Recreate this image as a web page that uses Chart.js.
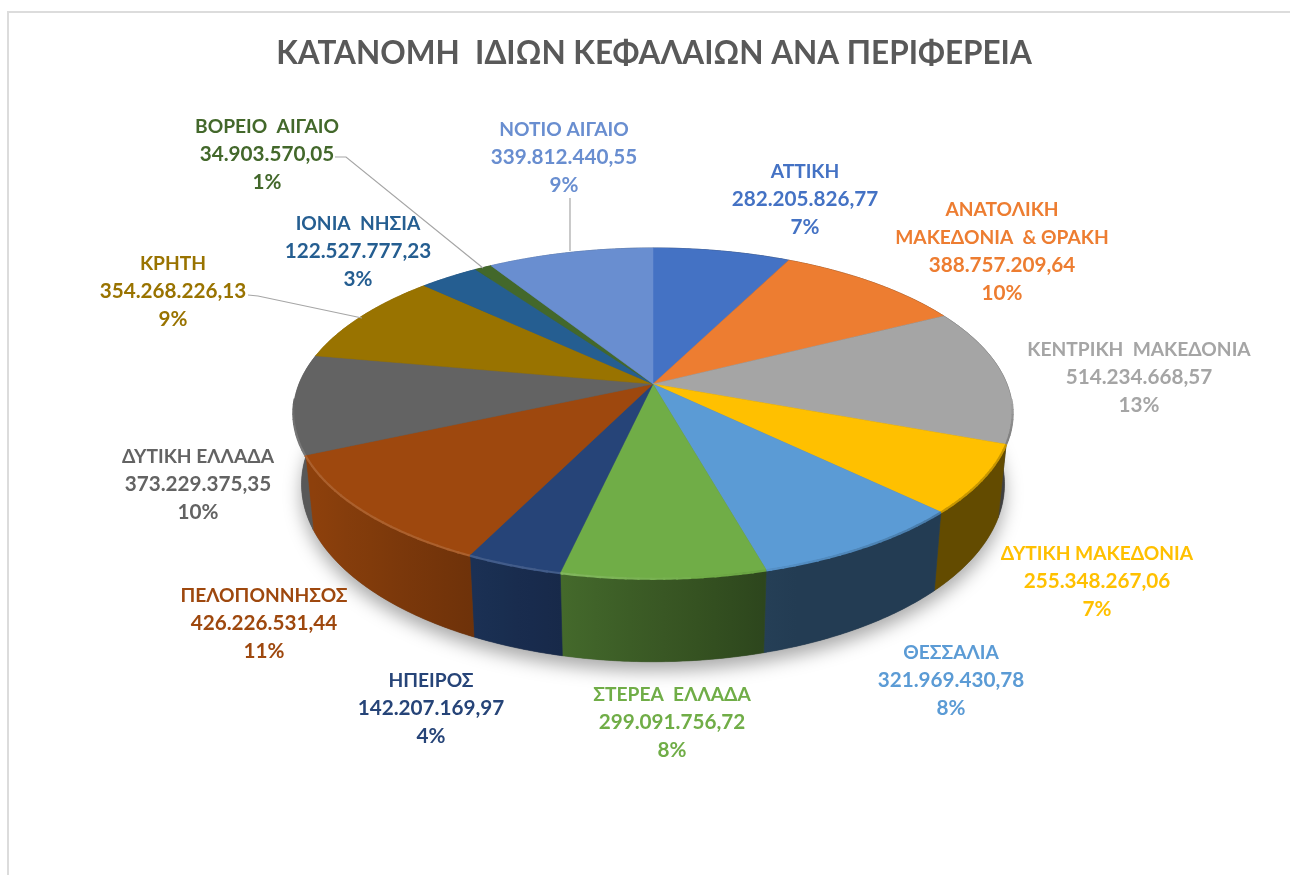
<!DOCTYPE html>
<html lang="el">
<head>
<meta charset="utf-8">
<title>Κατανομή ιδίων κεφαλαίων ανά περιφέρεια</title>
<script src="https://cdn.jsdelivr.net/npm/chart.js@4"></script>
<style>
html,body{margin:0;padding:0;background:#fff;overflow:hidden}
#wrap{position:relative;width:1290px;height:875px}
#frame{position:absolute;left:7px;top:11px;width:1290px;height:880px;border:2px solid #dcdcdc;box-sizing:border-box}
canvas{position:absolute;left:0;top:0}
</style>
</head>
<body>
<div id="wrap"><div id="frame"></div><canvas id="c" width="1290" height="875"></canvas></div>
<script>
const titleText = 'ΚΑΤΑΝΟΜΗ  ΙΔΙΩΝ ΚΕΦΑΛΑΙΩΝ ΑΝΑ ΠΕΡΙΦΕΡΕΙΑ';
const regions = ['ΑΤΤΙΚΗ','ΑΝΑΤΟΛΙΚΗ  ΜΑΚΕΔΟΝΙΑ  & ΘΡΑΚΗ','ΚΕΝΤΡΙΚΗ  ΜΑΚΕΔΟΝΙΑ','ΔΥΤΙΚΗ ΜΑΚΕΔΟΝΙΑ','ΘΕΣΣΑΛΙΑ','ΣΤΕΡΕΑ  ΕΛΛΑΔΑ','ΗΠΕΙΡΟΣ','ΠΕΛΟΠΟΝΝΗΣΟΣ','ΔΥΤΙΚΗ ΕΛΛΑΔΑ','ΚΡΗΤΗ','ΙΟΝΙΑ  ΝΗΣΙΑ','ΒΟΡΕΙΟ  ΑΙΓΑΙΟ','ΝΟΤΙΟ ΑΙΓΑΙΟ'];
const capital = [282205826.77,388757209.64,514234668.57,255348267.06,321969430.78,299091756.72,142207169.97,426226531.44,373229375.35,354268226.13,122527777.23,34903570.05,339812440.55];
const colors = ['#4472c4','#ed7d31','#a5a5a5','#ffc000','#5b9bd5','#70ad47','#264478','#9e480e','#636363','#997300','#255e91','#43682b','#698ed0'];

// Layout of the labels and the 3D projection (not data)
const labelCentres = [[805,172],[1002,210],[1139,350],[1097,554],[951,653],[672,695],[431,681],[264,596],[198,457],[173,264],[358,224],[267,127],[564,130]];
const labelBreaks = {1:['ΑΝΑΤΟΛΙΚΗ','ΜΑΚΕΔΟΝΙΑ  & ΘΡΑΚΗ']};
const leaders = [[[335,157],[346,157],[483,268]],[[248,295],[258,296],[362,318]],[[570,198],[570,251]]];
const LINE = 27.8;
const upper = {cx:653, cy:384, a:354, k:160, d:0.176};
const lower = {cx:653, cy:453, a:346, k:172, d:0.176};

function project(p, ang){
  const u = Math.cos(ang), v = Math.sin(ang), den = 1 - p.d*v;
  return [p.cx + p.a*u/den, p.cy + p.k*v/den];
}
function rgb(hex){ return [1,3,5].map(i=>parseInt(hex.substr(i,2),16)); }
function shade(hex,f){ return 'rgb('+rgb(hex).map(c=>Math.round(c*f)).join(',')+')'; }
function mix(hex,t,f){ return 'rgb('+rgb(hex).map(c=>Math.round(c+(t-c)*f)).join(',')+')'; }
function rim(ctx,p,a,b){
  const n = Math.max(2,Math.ceil(Math.abs(b-a)/0.01));
  for(let i=0;i<=n;i++){ const q = project(p,a+(b-a)*i/n); ctx.lineTo(q[0],q[1]); }
}
function wallFactor(ang){
  const u = Math.cos(ang);
  if(u > 0.3) return 0.39;
  if(u > -0.6) return 0.516 - 0.42*u;
  return 0.768 + (-0.6-u)*0.4;
}

const pie3d = {
  id:'pie3d',
  beforeDatasetsDraw(chart){
    const ctx = chart.ctx, arcs = chart.getDatasetMeta(0).data;
    // soft ground shadow
    ctx.save();
    ctx.shadowColor='rgba(0,0,0,0.34)'; ctx.shadowBlur=18; ctx.shadowOffsetY=9;
    ctx.fillStyle='#555';
    ctx.beginPath(); rim(ctx,lower,0,Math.PI*2); ctx.closePath(); ctx.fill();
    ctx.restore();
    // side walls
    arcs.forEach((arc,i)=>{
      const a=arc.startAngle,b=arc.endAngle;
      const p1=project(lower,a),p2=project(lower,b);
      const g=ctx.createLinearGradient(p1[0],0,p2[0]+0.01,0);
      const n=6;
      for(let s=0;s<=n;s++){ const t=a+(b-a)*s/n; const q=project(lower,t);
        const off=(p2[0]===p1[0])?0:Math.min(1,Math.max(0,(q[0]-p1[0])/(p2[0]-p1[0])));
        g.addColorStop(off,shade(colors[i],wallFactor(t))); }
      ctx.beginPath();
      const s0=project(upper,a); ctx.moveTo(s0[0],s0[1]);
      rim(ctx,upper,a,b); rim(ctx,lower,b,a); ctx.closePath();
      ctx.fillStyle=g; ctx.strokeStyle=g; ctx.lineWidth=0.6; ctx.fill(); ctx.stroke();
    });
    // top faces
    arcs.forEach((arc,i)=>{
      ctx.beginPath(); ctx.moveTo(upper.cx,upper.cy);
      rim(ctx,upper,arc.startAngle,arc.endAngle); ctx.closePath();
      ctx.fillStyle=colors[i]; ctx.strokeStyle=colors[i]; ctx.lineWidth=0.5; ctx.fill(); ctx.stroke();
    });
    // bevel along the front rim
    arcs.forEach((arc,i)=>{
      const step=0.03; ctx.lineCap='butt';
      const p={...upper,k:upper.k+0.5};
      for(let t=arc.startAngle;t<arc.endAngle;t+=step){
        const mid=t+step/2, sn=Math.sin(mid); if(sn<0.1) continue;
        const u=Math.cos(mid), fade=Math.min(1,(sn-0.1)/0.2);
        const e=Math.min(t+step+0.005,arc.endAngle);
        ctx.beginPath(); const s=project(p,t); ctx.moveTo(s[0],s[1]);
        rim(ctx,p,t,e);
        ctx.lineWidth=2.2;
        ctx.strokeStyle = u<0.1 ? mix(colors[i],255,Math.min(0.13,(0.1-u)*0.3+0.03)*fade)
                                : mix(colors[i],0,Math.min(0.22,(u-0.1)*0.35)*fade);
        ctx.stroke();
      }
    });
    return false;
  },
  afterDraw(chart){
    const ctx=chart.ctx, total=capital.reduce((s,v)=>s+v,0);
    ctx.save();
    ctx.strokeStyle='#a6a6a6'; ctx.lineWidth=1.2;
    leaders.forEach(l=>{ ctx.beginPath(); l.forEach((q,j)=> j?ctx.lineTo(q[0],q[1]):ctx.moveTo(q[0],q[1])); ctx.stroke(); });
    ctx.textAlign='center'; ctx.textBaseline='middle';
    regions.forEach((r,i)=>{
      const fixed=capital[i].toFixed(2).split('.');
      const val=fixed[0].replace(/\B(?=(\d{3})+$)/g,'.')+','+fixed[1];
      const names=labelBreaks[i]||[r];
      const lines=names.concat([val,Math.round(capital[i]/total*100)+'%']);
      ctx.fillStyle=colors[i];
      lines.forEach((t,j)=>{
        ctx.font=(j<names.length?'bold 19.2px':'bold 20.7px')+' Lato';
        ctx.fillText(t,labelCentres[i][0],labelCentres[i][1]+j*LINE);
      });
    });
    ctx.restore();
  }
};

new Chart(document.getElementById('c'),{
  type:'pie',
  data:{labels:regions,datasets:[{data:capital,backgroundColor:colors,borderWidth:0}]},
  options:{
    responsive:false,animation:false,
    layout:{padding:{left:18}},
    plugins:{
      legend:{display:false},tooltip:{enabled:false},
      title:{display:true,text:titleText,color:'#595959',font:{family:'Lato',size:31.5,weight:'bold'},padding:{top:35,bottom:10}}
    }
  },
  plugins:[pie3d]
});
</script>
</body>
</html>
